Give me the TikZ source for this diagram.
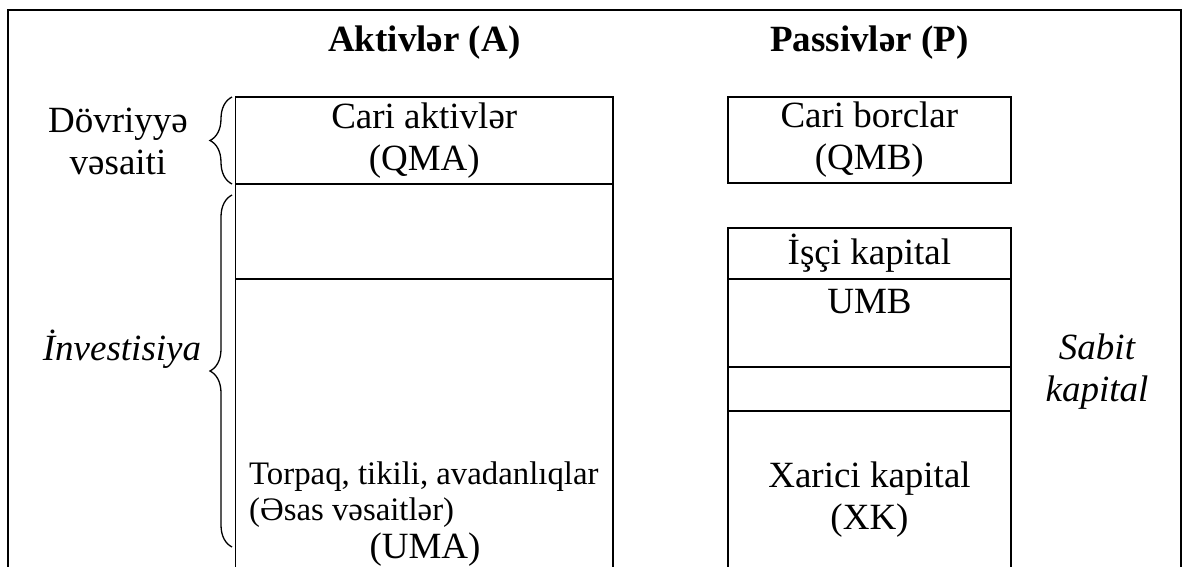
\documentclass[tikz,border=0pt]{standalone}
\usepackage{fontspec}
\setmainfont{Liberation Serif}
\usetikzlibrary{positioning,decorations.pathreplacing}
\newcommand{\bodyfont}{\fontsize{37}{42}\selectfont}
\newcommand{\notefont}{\fontsize{32.8}{37}\selectfont}
\newcommand{\headfont}{\fontsize{37}{42}\selectfont\bfseries}

\begin{document}
\begin{tikzpicture}[x=1pt,y=-1pt,node distance=0pt,
 cell/.style={draw,line width=1.8pt,inner sep=0pt,outer sep=0pt,align=center,font=\bodyfont},
 lbl/.style={inner sep=0pt,align=center,font=\bodyfont},
 curly/.style={decorate,decoration={brace,amplitude=22pt},line width=1.3pt}]
\useasboundingbox (0,0) rectangle (1183,567);
\clip (0,0) rectangle (1183,567);
\draw[line width=1.8pt] (8,620) -- (8,10) -- (1181,10) -- (1181,620);

% assets column
\node[cell,anchor=north west,minimum width=377.5pt,minimum height=87pt] (qma) at (235.5,97) {Cari aktivlər\\(QMA)};
\node[cell,minimum width=377.5pt,minimum height=95pt,below=of qma] (aktivbos) {};
\node[cell,minimum width=377.5pt,minimum height=330pt,below=of aktivbos] (uma) {};
\node[lbl,font=\notefont,anchor=base west] (torpaq) at (249,484) {Torpaq, tikili, avadanlıqlar};
\node[lbl,font=\notefont,anchor=base west] (esas) at (249,520) {(Əsas vəsaitlər)};
\node[lbl,anchor=base] (umatxt) at (425,558) {(UMA)};

% liabilities column
\node[cell,anchor=north west,minimum width=283.3pt,minimum height=86pt] (qmb) at (727.7,97) {Cari borclar\\(QMB)};
\node[cell,anchor=north west,minimum width=283.3pt,minimum height=51pt] (isci) at (727.7,228) {İşçi kapital};
\node[cell,minimum width=283.3pt,minimum height=88pt,below=of isci] (umb) {};
\node[lbl,anchor=base] (umbtxt) at (869.5,313) {UMB};
\node[cell,minimum width=283.3pt,minimum height=44pt,below=of umb] (passivbos) {};
\node[cell,minimum width=283.3pt,minimum height=200pt,below=of passivbos] (xk) {};
\node[lbl] (xktxt) at (869.5,500) {Xarici kapital\\(XK)};

% column titles
\path (qma.north) ++(0,-45) node[font=\headfont,inner sep=0pt,anchor=base] (aktiv) {Aktivlər (A)};
\path (qmb.north) ++(0,-45) node[font=\headfont,inner sep=0pt,anchor=base] (passiv) {Passivlər (P)};

% side labels and braces
\node[lbl] (dovr) at (118,141) {Dövriyyə\\vəsaiti};
\node[lbl,font=\bodyfont\itshape,anchor=base] (invest) at (122,360) {İnvestisiya};
\node[lbl,font=\bodyfont\itshape] (sabit) at (1097,372) {Sabit\\kapital};
\draw[curly] ([xshift=-3.5pt]qma.south west) -- ([xshift=-3.5pt]qma.north west);
\draw[curly] (232,547) -- (232,195);
\end{tikzpicture}
\end{document}
